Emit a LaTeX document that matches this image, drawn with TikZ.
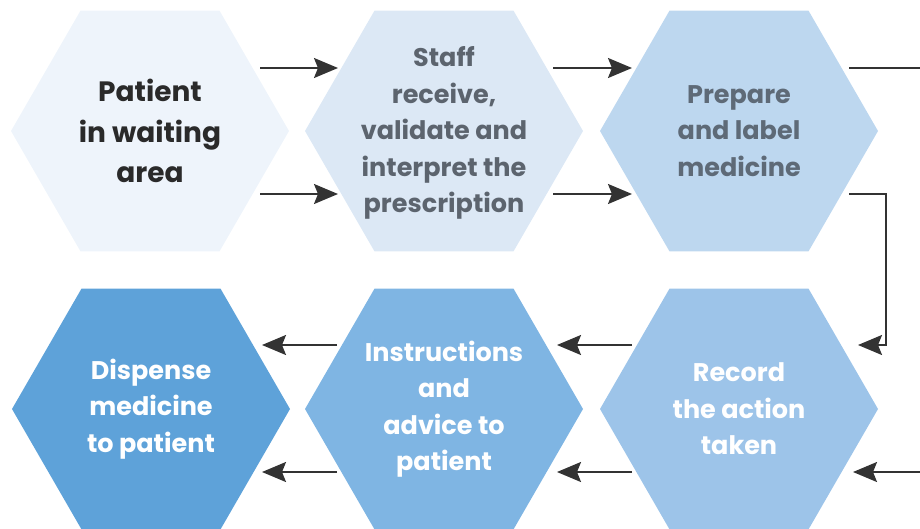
\documentclass[tikz,border=0pt]{standalone}
\usepackage{fontspec}
\setmainfont{Poppins}
\usetikzlibrary{shapes.geometric,arrows.meta,calc}

\definecolor{hexA}{HTML}{EEF4FB}
\definecolor{hexB}{HTML}{DCE8F5}
\definecolor{hexC}{HTML}{BDD7EF}
\definecolor{hexD}{HTML}{9DC4E9}
\definecolor{hexE}{HTML}{7FB5E3}
\definecolor{hexF}{HTML}{5EA2D9}
\definecolor{inkDark}{HTML}{2A2A2A}
\definecolor{inkGrey}{HTML}{5C646E}
\definecolor{inkSlate}{HTML}{5E6A77}
\definecolor{lineInk}{HTML}{333333}

\begin{document}
\begin{tikzpicture}[x=1pt,y=-1pt,
  hexagon/.style={regular polygon, regular polygon sides=6,
    minimum size=278pt, inner sep=0pt, draw=none},
  hextext/.style={align=center, inner sep=0pt, font=\bfseries\fontsize{25.5}{36.5}\selectfont},
  flow/.style={draw=lineInk, line width=2pt,
    -{Stealth[length=24pt,width=20pt,inset=4pt]}},
  plain/.style={draw=lineInk, line width=2pt}]

\useasboundingbox (0,0) rectangle (920,528);

% upper row, left to right
\node[hexagon, fill=hexA] (h1) at (150,131) {};
\node[hexagon, fill=hexB] (h2) at (444,131) {};
\node[hexagon, fill=hexC] (h3) at (739,131) {};
% lower row, right to left
\node[hexagon, fill=hexD] (h6) at (739,409) {};
\node[hexagon, fill=hexE] (h5) at (444,409) {};
\node[hexagon, fill=hexF] (h4) at (151,409) {};

% step labels
\node[hextext, text=inkDark, font=\bfseries\fontsize{28}{40.5}\selectfont] (t1) at (h1) {Patient\\in waiting\\area};
\node[hextext, text=inkGrey] (t2) at ([yshift=-2pt]h2.center) {Staff\\receive,\\validate and\\interpret the\\prescription};
\node[hextext, text=inkSlate] (t3) at (h3) {Prepare\\and label\\medicine};
\node[hextext, text=white] (t6) at (h6) {Record\\the action\\taken};
\node[hextext, text=white] (t5) at (h5) {Instructions\\and\\advice to\\patient};
\node[hextext, text=white] (t4) at (h4) {Dispense\\medicine\\to patient};

% free ends at the right margin
\coordinate (exitTop) at (922,68);
\coordinate (entryBot) at (922,472);

% upper row connectors
\draw[flow] ($(h1)+(110,-63)$) -- ($(h2)+(-106,-63)$);
\draw[flow] ($(h1)+(110,63)$) -- ($(h2)+(-106,63)$);
\draw[flow] ($(h2)+(109,-63)$) -- ($(h3)+(-107,-63)$);
\draw[flow] ($(h2)+(109,63)$) -- ($(h3)+(-107,63)$);

% turn from upper row to lower row
\draw[plain] ($(h3)+(110,-63)$) -- (exitTop);
\draw[flow] ($(h3)+(110,63)$) -- ++(37,0) |- ($(h6)+(119,-64)$);
\draw[flow] (entryBot) -- ($(h6)+(114,63)$);

% lower row connectors
\draw[flow] ($(h6)+(-107,-64)$) -- ($(h5)+(113,-64)$);
\draw[flow] ($(h6)+(-107,63)$) -- ($(h5)+(113,63)$);
\draw[flow] ($(h5)+(-107,-64)$) -- ($(h4)+(111,-64)$);
\draw[flow] ($(h5)+(-107,63)$) -- ($(h4)+(111,63)$);
\end{tikzpicture}
\end{document}
